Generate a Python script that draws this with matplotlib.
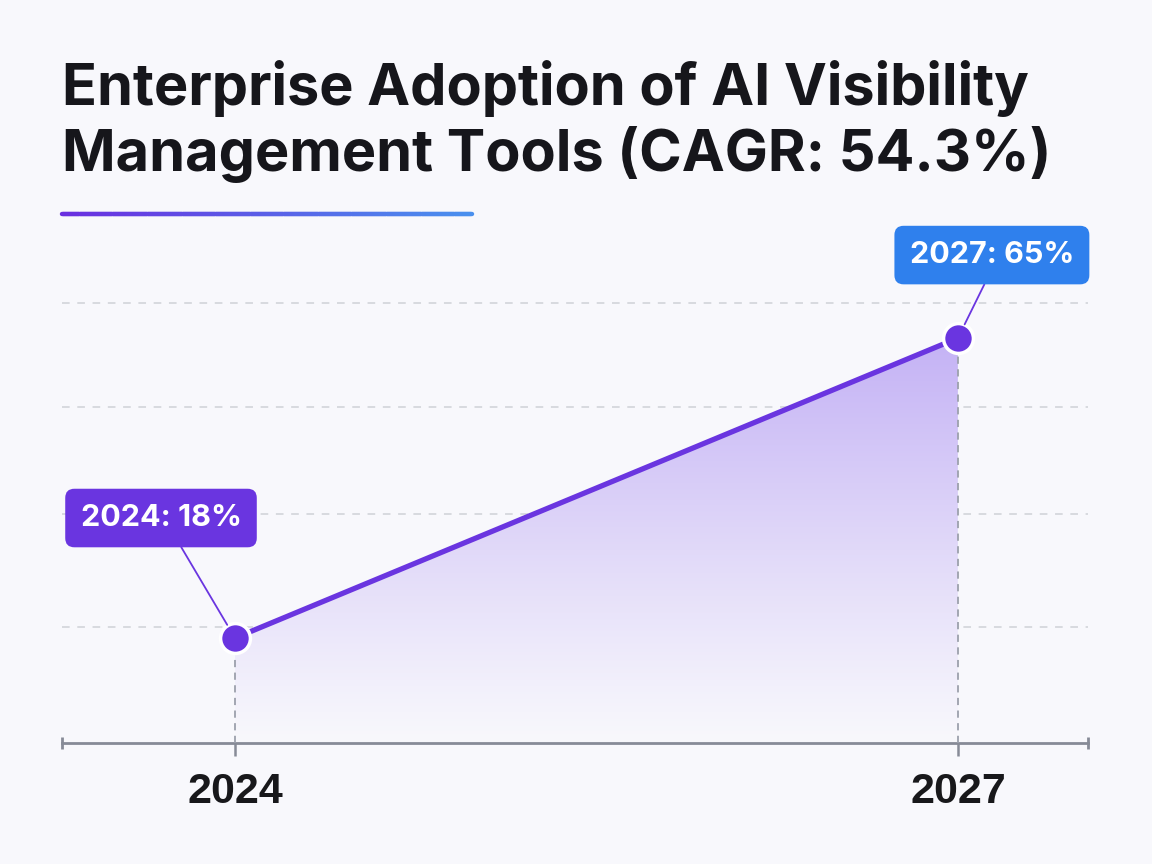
import numpy as np
import matplotlib.pyplot as plt
from matplotlib.collections import LineCollection
from matplotlib.colors import LinearSegmentedColormap, to_rgb

# данные
years = [2024, 2027]
adoption = [18, 65]
point_labels = ["2024: 18%", "2027: 65%"]
grid_levels = [19.7, 37.4, 54.2, 70.5]
title = "Enterprise Adoption of AI Visibility\nManagement Tools (CAGR: 54.3%)"

bg = "#f8f8fc"
purple = "#6a35e0"
blue = "#2f80ed"
box_colors = [purple, blue]
axis_grey = "#878b97"

fig = plt.figure(figsize=(11.52, 8.64), dpi=100, facecolor=bg)

# заголовок
fig.text(62 / 1152, 1 - 60 / 864, title, fontsize=41.5, fontweight="bold",
         family=["Inter", "DejaVu Sans"], color="#16161b", va="top", ha="left",
         linespacing=1.2)

# градиентная линия под заголовком
n = 200
xs = np.linspace(62 / 1152, 472 / 1152, n)
ys = np.full(n, 1 - 214 / 864)
segs = np.stack([np.column_stack([xs[:-1], ys[:-1]]), np.column_stack([xs[1:], ys[1:]])], axis=1)
cmap_ul = LinearSegmentedColormap.from_list("ul", ["#6a2fe0", "#4a90ee"])
lc = LineCollection(segs, colors=cmap_ul(np.linspace(0, 1, n - 1)), linewidths=3.2,
                    capstyle="round", transform=fig.transFigure)
fig.add_artist(lc)

# оси
ax = fig.add_axes([62 / 1152, 1 - 743 / 864, (1088 - 62) / 1152, (743 - 250) / 864])
ax.set_facecolor(bg)
y0, y1 = 1.55, 78.8
x0, x1 = 2023.282, 2027.54

# градиентная заливка под линией
poly = ax.fill_between(years, adoption, y0, color="none", lw=0)
grad = np.linspace(0, 1, 256)[:, None]
top = np.array(to_rgb("#c4b2f5"))
base = np.array(to_rgb(bg))
alpha = grad ** 1.1
rgb = base[None, None, :] * (1 - alpha[..., None]) + top[None, None, :] * alpha[..., None]
rgb = np.repeat(rgb, 2, axis=1)
im = ax.imshow(rgb, extent=[years[0], years[-1], y0, max(adoption)], origin="lower",
               aspect="auto", zorder=2, interpolation="bilinear")
im.set_clip_path(poly.get_paths()[0], transform=ax.transData)

ax.vlines(years, y0, adoption, colors="#9ca0ac", linestyles=(0, (4, 3)), lw=1.3, zorder=3)
ax.plot(years, adoption, color=purple, lw=3.8, solid_capstyle="round", zorder=4)
ax.plot(years, adoption, "o", ms=21.5, mfc=purple, mec="white", mew=2.5, zorder=6)

# подписи точек
offsets = [(-74, 120), (34, 83)]
relx = [0.57, 0.5]
for x, y, lab, c, off, rx in zip(years, adoption, point_labels, box_colors, offsets, relx):
    ax.annotate(lab, (x, y), xytext=off, textcoords="offset pixels",
                ha="center", va="center", fontsize=22, fontweight="bold",
                family=["Inter", "DejaVu Sans"], color="white", zorder=7,
                bbox=dict(boxstyle="round,pad=0.5,rounding_size=0.3", fc=c, ec="none"),
                arrowprops=dict(arrowstyle="-", color=purple, lw=1.3, shrinkA=0,
                                shrinkB=11, relpos=(rx, 0)))

ax.set_xlim(x0, x1)
ax.set_ylim(y0, y1)

# сетка и ось
ax.set_yticks(grid_levels)
ax.tick_params(axis="y", length=0, labelleft=False)
ax.grid(axis="y", color="#cfd1d7", lw=1.1, linestyle=(0, (5, 5)), zorder=1)
ax.set_axisbelow(True)
for s in ["top", "right", "left"]:
    ax.spines[s].set_visible(False)
ax.spines["bottom"].set_color(axis_grey)
ax.spines["bottom"].set_linewidth(2)
ax.plot([0, 1], [0, 0], transform=ax.transAxes, ls="none", marker="|", ms=9,
        mew=2, color=axis_grey, clip_on=False, zorder=5)

ax.set_xticks(years)
ax.set_xticklabels([str(y) for y in years], fontsize=31, fontweight="bold",
                   family=["Liberation Sans", "DejaVu Sans"], color="#18181b")
ax.tick_params(axis="x", length=9, width=1.8, color=axis_grey, pad=12)

fig.savefig("out.png", dpi=100, facecolor=bg)
